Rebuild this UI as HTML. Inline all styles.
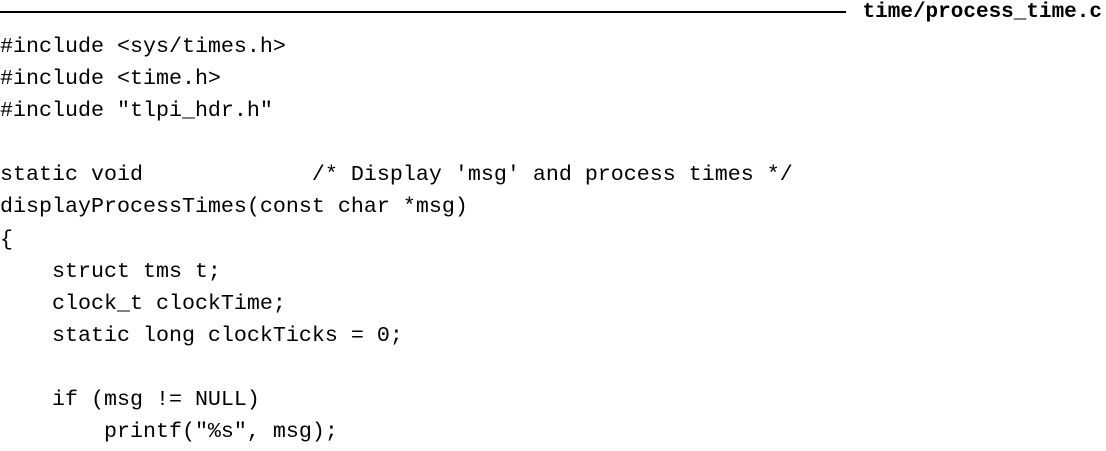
<!DOCTYPE html>
<html><head><meta charset="utf-8"><style>
html,body{margin:0;padding:0;background:#fff;}
body{width:1106px;height:451px;position:relative;overflow:hidden;}
.rule{position:absolute;left:0;top:11px;width:846px;height:2px;background:#000;}
.title{position:absolute;right:4px;top:-1px;font-family:"Liberation Mono",monospace;font-weight:bold;font-size:21px;line-height:28px;color:#000;white-space:pre;}
pre{position:absolute;left:0;top:31px;margin:0;font-family:"Liberation Mono",monospace;font-size:21.67px;line-height:32.1px;color:#000;}
</style></head><body>
<div class="rule"></div>
<div class="title">time/process_time.c</div>
<pre>#include &lt;sys/times.h&gt;
#include &lt;time.h&gt;
#include "tlpi_hdr.h"

static void             /* Display 'msg' and process times */
displayProcessTimes(const char *msg)
{
    struct tms t;
    clock_t clockTime;
    static long clockTicks = 0;

    if (msg != NULL)
        printf("%s", msg);</pre>
</body></html>
